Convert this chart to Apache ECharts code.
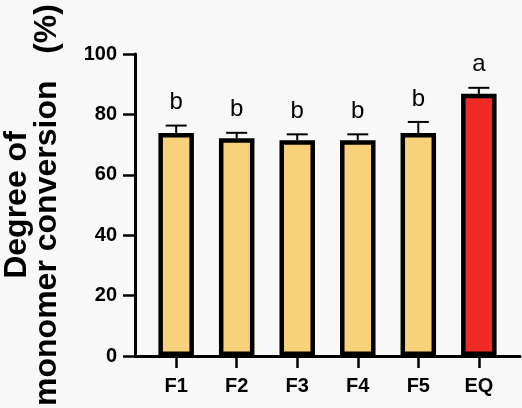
<!DOCTYPE html>
<html>
<head>
<meta charset="utf-8">
<script src="https://cdn.jsdelivr.net/npm/echarts@6/dist/echarts.min.js"></script>
<style>
html,body{margin:0;padding:0;background:#f8f8f8;}
#chart{width:522px;height:408px;}
</style>
</head>
<body>
<div id="chart"></div>
<script>
var categories = ['F1', 'F2', 'F3', 'F4', 'F5', 'EQ'];
var means = [73.8, 72.1, 71.4, 71.4, 73.8, 86.8];
var errors = [2.5, 1.8, 2.0, 2.0, 3.7, 2.0];
var letters = ['b', 'b', 'b', 'b', 'b', 'a'];
var barColors = ['#f8d27a', '#f8d27a', '#f8d27a', '#f8d27a', '#f8d27a', '#ee2b25'];
var yTicks = [0, 20, 40, 60, 80, 100];

var FONT = '"Liberation Sans", Arial, sans-serif';
var idx = categories.map(function (c, i) { return i; });

var chart = echarts.init(document.getElementById('chart'));
chart.setOption({
  backgroundColor: '#f8f8f8',
  animation: false,
  grid: { left: 135, right: 2, top: 54, bottom: 52, outerBoundsMode: 'none', containLabel: false },
  xAxis: {
    type: 'value',
    min: -0.68,
    max: 5.68,
    splitLine: { show: false },
    axisLine: { show: true, onZero: false, lineStyle: { color: '#000', width: 3 } },
    axisTick: { show: true, length: 12, lineStyle: { color: '#000', width: 2.5 }, customValues: idx },
    axisLabel: {
      customValues: idx,
      margin: 20,
      color: '#000',
      fontFamily: FONT,
      fontWeight: 'bold',
      fontSize: 20,
      formatter: function (v) { return categories[Math.round(v)]; }
    }
  },
  yAxis: {
    type: 'value',
    min: 0,
    max: 100,
    interval: 20,
    splitLine: { show: false },
    axisLine: { show: true, onZero: false, lineStyle: { color: '#000', width: 3 } },
    axisTick: { show: true, length: 12, lineStyle: { color: '#000', width: 2.5 } },
    axisLabel: {
      margin: 18,
      color: '#000',
      fontFamily: FONT,
      fontWeight: 'bold',
      fontSize: 20,
      formatter: function (v) { return yTicks.indexOf(v) >= 0 ? String(v) : ''; }
    },
    name: 'Degree of\nmonomer conversion   (%)',
    nameLocation: 'middle',
    nameRotate: 90,
    nameGap: 73,
    nameTextStyle: {
      color: '#000',
      fontFamily: FONT,
      fontWeight: 'bold',
      fontSize: 32,
      lineHeight: 30
    }
  },
  series: [
    {
      type: 'bar',
      barWidth: 35.5,
      data: means.map(function (m, i) {
        return {
          value: [i, m],
          itemStyle: { color: barColors[i], borderColor: '#000', borderWidth: 4.5 }
        };
      }),
      z: 3
    },
    {
      type: 'custom',
      z: 2,
      data: means.map(function (m, i) { return [i, m, errors[i]]; }),
      renderItem: function (params, api) {
        var i = api.value(0);
        var m = api.value(1);
        var e = api.value(2);
        var base = api.coord([i, m]);
        var top = api.coord([i, m + e]);
        var half = 10.5;
        return {
          type: 'group',
          children: [
            { type: 'line', shape: { x1: base[0], y1: base[1], x2: top[0], y2: top[1] }, style: { stroke: '#000', lineWidth: 2 } },
            { type: 'line', shape: { x1: top[0] - half, y1: top[1], x2: top[0] + half, y2: top[1] }, style: { stroke: '#000', lineWidth: 2 } },
            {
              type: 'text',
              x: top[0],
              y: top[1] - 11,
              style: {
                text: letters[params.dataIndex],
                fill: '#000',
                font: '24px ' + FONT,
                align: 'center',
                verticalAlign: 'bottom'
              }
            }
          ]
        };
      }
    }
  ]
});
</script>
</body>
</html>
